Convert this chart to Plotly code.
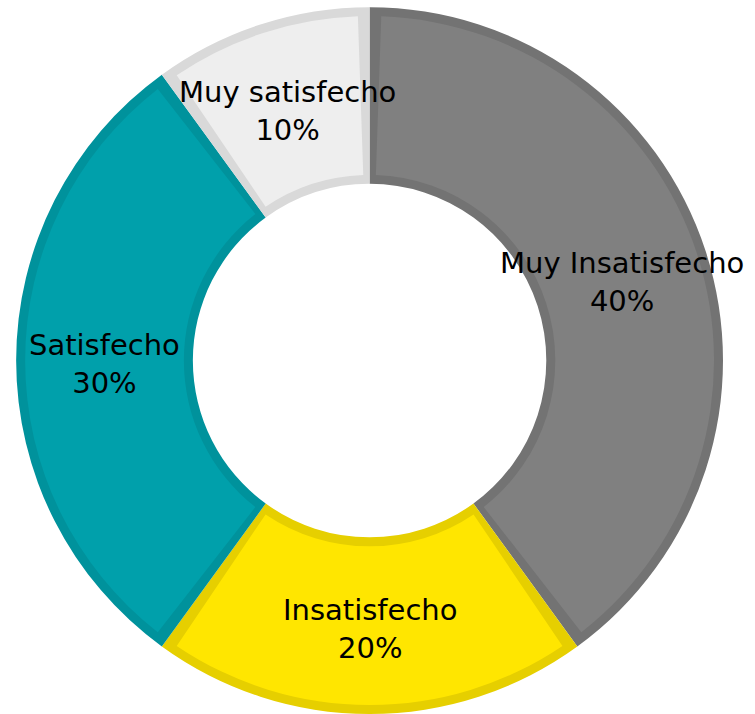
import math
import plotly.graph_objects as go

# Survey satisfaction shares, listed clockwise from 12 o'clock
categories = ["Muy Insatisfecho", "Insatisfecho", "Satisfecho", "Muy satisfecho"]
shares = [40, 20, 30, 10]
fill_colors = ["#808080", "#FFE600", "#00A0AB", "#EEEEEE"]
edge_colors = ["#737373", "#E6CF00", "#00929C", "#D9D9D9"]

W, H = 755, 714
DOM_X = [0.0, 0.979]
DOM_Y = [0.0, 0.99]
HOLE = 0.5
EDGE_PX = 9  # inner border thickness of each slice

# pie geometry in pixels (radius is limited by the shorter side of the domain)
cx_frac = sum(DOM_X) / 2
cy_frac = sum(DOM_Y) / 2
R = min((DOM_X[1] - DOM_X[0]) * W, (DOM_Y[1] - DOM_Y[0]) * H) / 2
cx_px = cx_frac * W
cy_px = (1 - cy_frac) * H

fig = go.Figure()

# base ring in the darker edge colours
fig.add_trace(go.Pie(
    labels=categories, values=shares, sort=False, direction="clockwise",
    rotation=0, hole=HOLE, domain=dict(x=DOM_X, y=DOM_Y),
    marker=dict(colors=edge_colors, line=dict(width=0)),
    textinfo="none", hoverinfo="skip",
))

# inset fill ring: smaller outer radius, larger hole, transparent gaps between slices
R_in = R - EDGE_PX
hole_in = (R * HOLE + EDGE_PX) / R_in
r_mid_fill = (R_in + R * HOLE + EDGE_PX) / 2
gap_deg = math.degrees(EDGE_PX / r_mid_fill)
total = sum(shares)
vals, cols, labs = [], [], []
for i, (c, v) in enumerate(zip(categories, shares)):
    ang = v / total * 360
    vals += [gap_deg, ang - 2 * gap_deg, gap_deg]
    cols += ["rgba(0,0,0,0)", fill_colors[i], "rgba(0,0,0,0)"]
    labs += [f"{c} a", c, f"{c} b"]

half_y = R_in / H
fig.add_trace(go.Pie(
    labels=labs, values=vals, sort=False, direction="clockwise",
    rotation=0, hole=hole_in,
    domain=dict(x=[cx_frac - 0.48, cx_frac + 0.48], y=[cy_frac - half_y, cy_frac + half_y]),
    marker=dict(colors=cols, line=dict(width=0)),
    textinfo="none", hoverinfo="skip",
))

# labels placed at the middle of the ring on each slice's bisector
r_mid = R * (1 + HOLE) / 2
start = 0.0
annotations = []
for c, v in zip(categories, shares):
    ang = v / total * 360
    mid = math.radians(start + ang / 2)
    x_px = cx_px + r_mid * math.sin(mid)
    y_px = cy_px - r_mid * math.cos(mid)
    annotations.append(dict(
        x=x_px / W, y=1 - y_px / H, xref="paper", yref="paper",
        text=f"{c}<br>{v}%", showarrow=False,
        xanchor="center", yanchor="middle", yshift=-3,
        font=dict(family="DejaVu Sans", size=29, color="#000000"),
    ))
    start += ang

fig.update_layout(
    width=W, height=H, margin=dict(l=0, r=0, t=0, b=0),
    paper_bgcolor="white", plot_bgcolor="white",
    showlegend=False, annotations=annotations,
)

fig.write_html("out.html")
